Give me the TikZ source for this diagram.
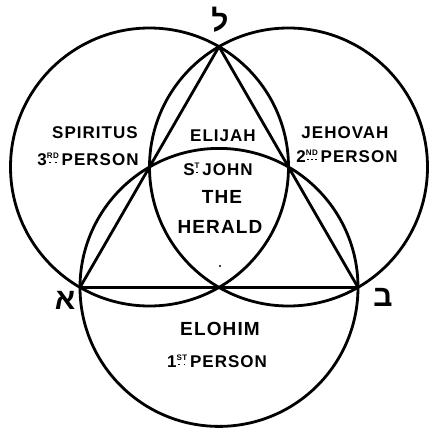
\documentclass[tikz,border=0pt]{standalone}
\usepackage{fontspec}
\setmainfont{Liberation Sans}
\newfontfamily\labfont[LetterSpace=6]{Liberation Sans}
\newfontfamily\hebfont[Script=Hebrew]{Liberation Sans}
\usetikzlibrary{calc}
\newcommand\dotr{\hfil\rule{1.4pt}{1.4pt}\hfil}
\newcommand\ordsup[2]{\raisebox{6.3pt}{\fontsize{8}{8}\selectfont\sbox0{#1}\rlap{\raisebox{-4.2pt}{\hbox to \wd0{#2}}}\usebox0}}
\begin{document}
\begin{tikzpicture}[x=1pt,y=-1pt,line width=2.8pt,line join=round,
  lab/.style={font=\labfont\bfseries\fontsize{17}{17}\selectfont,inner sep=0pt,anchor=base},
  big/.style={font=\labfont\bfseries\fontsize{19}{19}\selectfont},
  heb/.style={font=\hebfont\bfseries\fontsize{30}{30}\selectfont,inner sep=0pt}]
\useasboundingbox (0,0) rectangle (430,434);
\def\rad{139}
\coordinate (L) at (149.5,167);
\coordinate (R) at (288.5,167);
\coordinate (B) at (219,287.4);
\coordinate (T) at ($(L)+(R)-(B)$);
\coordinate (A) at ($(L)+(B)-(R)$);
\coordinate (C) at ($(R)+(B)-(L)$);
\draw (L) circle[radius=\rad];
\draw (R) circle[radius=\rad];
\draw (B) circle[radius=\rad];
\draw (T) -- (A) -- (C) -- cycle;
\node[lab] (spiritus) at (95,138) {SPIRITUS};
\node[lab] (spers) at (88,165) {3\ordsup{RD}{\dotr\dotr}\,PERSON};
\node[lab] (elijah) at (223,141) {ELIJAH};
\node[lab] (stjohn) at (218,175) {S\ordsup{T}{\dotr}\,JOHN};
\node[lab,big] (the) at (222,203) {THE};
\node[lab,big] (herald) at (220,233) {HERALD};
\node[lab] (jehovah) at (345,138) {JEHOVAH};
\node[lab] (jpers) at (347,162) {2\ordsup{ND}{\dotr\dotr\dotr}\,PERSON};
\node[lab,big] (elohim) at (220,335) {ELOHIM};
\node[lab] (epers) at (217,367) {1\ordsup{ST}{\dotr\dotr}\,PERSON};
\node[heb] (lamed) at (220,20) {ל};
\node[heb] (aleph) at (65,300) {א};
\node[heb] (bet) at (383,297) {ב};
\fill (220,266) circle[radius=1.2];
\end{tikzpicture}
\end{document}
